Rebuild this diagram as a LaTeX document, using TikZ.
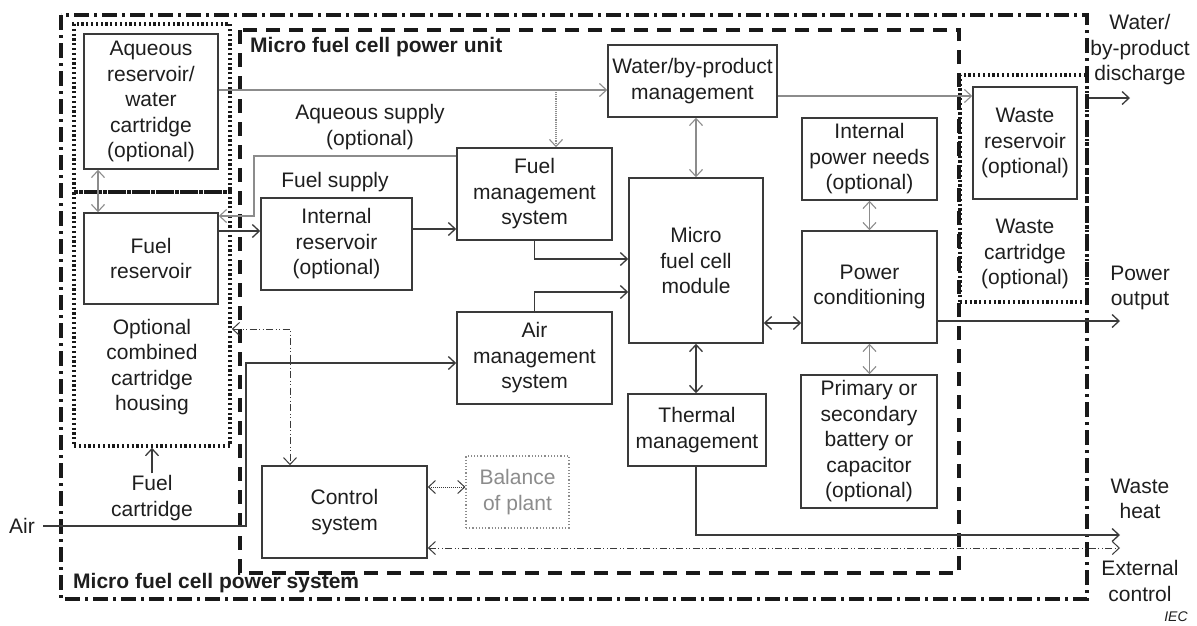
\documentclass[tikz,border=0pt]{standalone}
\usepackage{fontspec}
\setmainfont{Liberation Sans}
\usetikzlibrary{arrows.meta,calc}
\definecolor{ln}{HTML}{3A3A3A}
\definecolor{gl}{HTML}{8C8C8C}
\definecolor{tx}{HTML}{1E1E1E}
\begin{document}
\begin{tikzpicture}[x=1pt,y=-1pt,
  font=\fontsize{21}{25.5}\selectfont, text=tx,
  >={Straight Barb[length=7pt,width=13pt]},
  box/.style={draw=ln, line width=1.5pt, inner sep=0pt, align=center, fill=white},
  lbl/.style={inner sep=0pt, align=center},
  blbl/.style={inner sep=0pt, anchor=west, font=\fontsize{21}{25.5}\selectfont\bfseries},
  sysbox/.style={draw=black!90, line width=3.6pt, dash pattern=on 15pt off 5pt on 3pt off 5pt},
  unitbox/.style={draw=black!90, line width=3.6pt, dash pattern=on 14pt off 9pt},
  dotbox/.style={draw=black!90, line width=3.6pt, dash pattern=on 2.2pt off 2.6pt, inner sep=0pt},
  arr/.style={draw=ln, line width=1.3pt},
  garr/.style={draw=gl, line width=1.1pt},
  ctl/.style={draw=ln, line width=1pt, dash pattern=on 7pt off 2.5pt on 1pt off 2.5pt on 1pt off 2.5pt}
]
\useasboundingbox (0,0) rectangle (1197,625);

% enclosures
\draw[sysbox] (61,15) rectangle (1087,599);
\draw[unitbox] (240,30) rectangle (959,573);
\node[dotbox, minimum width=156pt, minimum height=168pt] (aqhouse) at (152,108) {};
\node[dotbox, minimum width=156pt, minimum height=254pt] (cart) at (152,319) {};
\node[dotbox, minimum width=127pt, minimum height=227pt] (wastebox) at (1023.5,188.5) {};

% blocks
\node[box, minimum width=134pt, minimum height=135pt] (aq) at (151,101.5) {Aqueous\\reservoir/\\water\\cartridge\\(optional)};
\node[box, minimum width=134pt, minimum height=91pt] (fuelres) at (151,258.5) {Fuel\\reservoir};
\node[box, minimum width=151pt, minimum height=92pt] (intres) at (336.5,244) {Internal\\reservoir\\(optional)};
\node[box, minimum width=155pt, minimum height=92pt] (fms) at (534.5,194) {Fuel\\management\\system};
\node[box, minimum width=169pt, minimum height=72pt] (wbm) at (692.5,81) {Water/by-product\\management};
\node[box, minimum width=134pt, minimum height=165pt] (mfc) at (696,260.5) {Micro\\fuel cell\\module};
\node[box, minimum width=135pt, minimum height=82pt] (ipn) at (869.5,159) {Internal\\power needs\\(optional)};
\node[box, minimum width=135pt, minimum height=112pt] (pc) at (869.5,287) {Power\\conditioning};
\node[box, minimum width=104pt, minimum height=112pt] (wr) at (1025,143) {Waste\\reservoir\\(optional)};
\node[box, minimum width=136pt, minimum height=133pt] (batt) at (869,441.5) {Primary or\\secondary\\battery or\\capacitor\\(optional)};
\node[box, minimum width=155pt, minimum height=92pt] (ams) at (534.5,358) {Air\\management\\system};
\node[box, minimum width=138pt, minimum height=72pt] (thm) at (697,430) {Thermal\\management};
\node[box, draw=gl, line width=1.2pt, dotted, text=gl, minimum width=103pt, minimum height=72pt] (bop) at (517.5,492) {Balance\\of plant};
\node[box, minimum width=165pt, minimum height=92pt] (ctrl) at (344.5,512) {Control\\system};

% labels
\node[blbl] (lunit) at (250,47) {Micro fuel cell power unit};
\node[blbl] (lsys) at (73,583) {Micro fuel cell power system};
\node[lbl] (laqs) at (370,127) {Aqueous supply\\(optional)};
\node[lbl] (lfs) at (335,182) {Fuel supply};
\node[lbl] (lcomb) at (152,367) {Optional\\combined\\cartridge\\housing};
\node[lbl] (lfc) at (152,498) {Fuel\\cartridge};
\node[lbl] (lwc) at (1025,254) {Waste\\cartridge\\(optional)};
\node[lbl] (lair) at (22,526) {Air};
\node[lbl] (ldis) at (1140,50) {Water/\\by-product\\discharge};
\node[lbl] (lpo) at (1140,288) {Power\\output};
\node[lbl] (lwh) at (1140,499) {Waste\\heat};
\node[lbl] (lec) at (1140,581) {External\\control};
\node[lbl, font=\fontsize{14}{16}\selectfont\itshape] (liec) at (1176,617) {IEC};

% free ends
\coordinate (disc) at (1130,98);
\coordinate (pout) at (1120,321);
\coordinate (wheat) at (1120,535);
\coordinate (extc) at (1120,548);
\coordinate (br) at (556,90);

% connectors
\draw[garr,->] (aq.east |- 0,90) -- (wbm.west |- 0,90);
\draw[garr,densely dotted,->] (br) -- (fms.north -| br);
\draw[garr,->] (fms.west |- 0,156) -- (254,156) -- (254,216) -- (fuelres.east |- 0,216);
\draw[garr,<->] (aq.south -| 98,0) -- (fuelres.north -| 98,0);
\draw[arr,->] (fuelres.east |- 0,231) -- (intres.west |- 0,231);
\draw[arr,->] (intres.east |- 0,229) -- (fms.west |- 0,229);
\draw[arr,->] (fms.south) |- (mfc.west |- 0,259);
\draw[arr,->] (ams.north) |- (mfc.west |- 0,292);
\draw[arr,->] (lair.east) ++(8,0) -- (246,526) |- (ams.west |- 0,363);
\draw[garr,<->] (mfc.north |- wbm.south) -- (mfc.north);
\draw[garr,->] (wbm.east |- 0,96) -- (wr.west |- 0,96);
\draw[arr,->] (wastebox.east |- disc) -- (disc);
\draw[garr,<->] (ipn.south) -- (pc.north);
\draw[arr,<->] (mfc.east |- 0,323) -- (pc.west |- 0,323);
\draw[arr,->] (pc.east |- pout) -- (pout);
\draw[garr,<->] (pc.south) -- (pc.south |- batt.north);
\draw[arr,<->] (mfc.south) -- (mfc.south |- thm.north);
\draw[arr,->] (thm.south -| mfc.south) |- (wheat);
\draw[ctl,<->] (ctrl.east |- extc) -- (extc);
\draw[ln,line width=1pt,densely dotted,<->] (ctrl.east |- 0,487) -- (bop.west |- 0,487);
\draw[ctl,<->] (cart.east |- 0,329) -- (290,329) -- (ctrl.north -| 290,0);
\draw[arr,->] (lfc.north) ++(0,-2) -- (cart.south);
\end{tikzpicture}
\end{document}
